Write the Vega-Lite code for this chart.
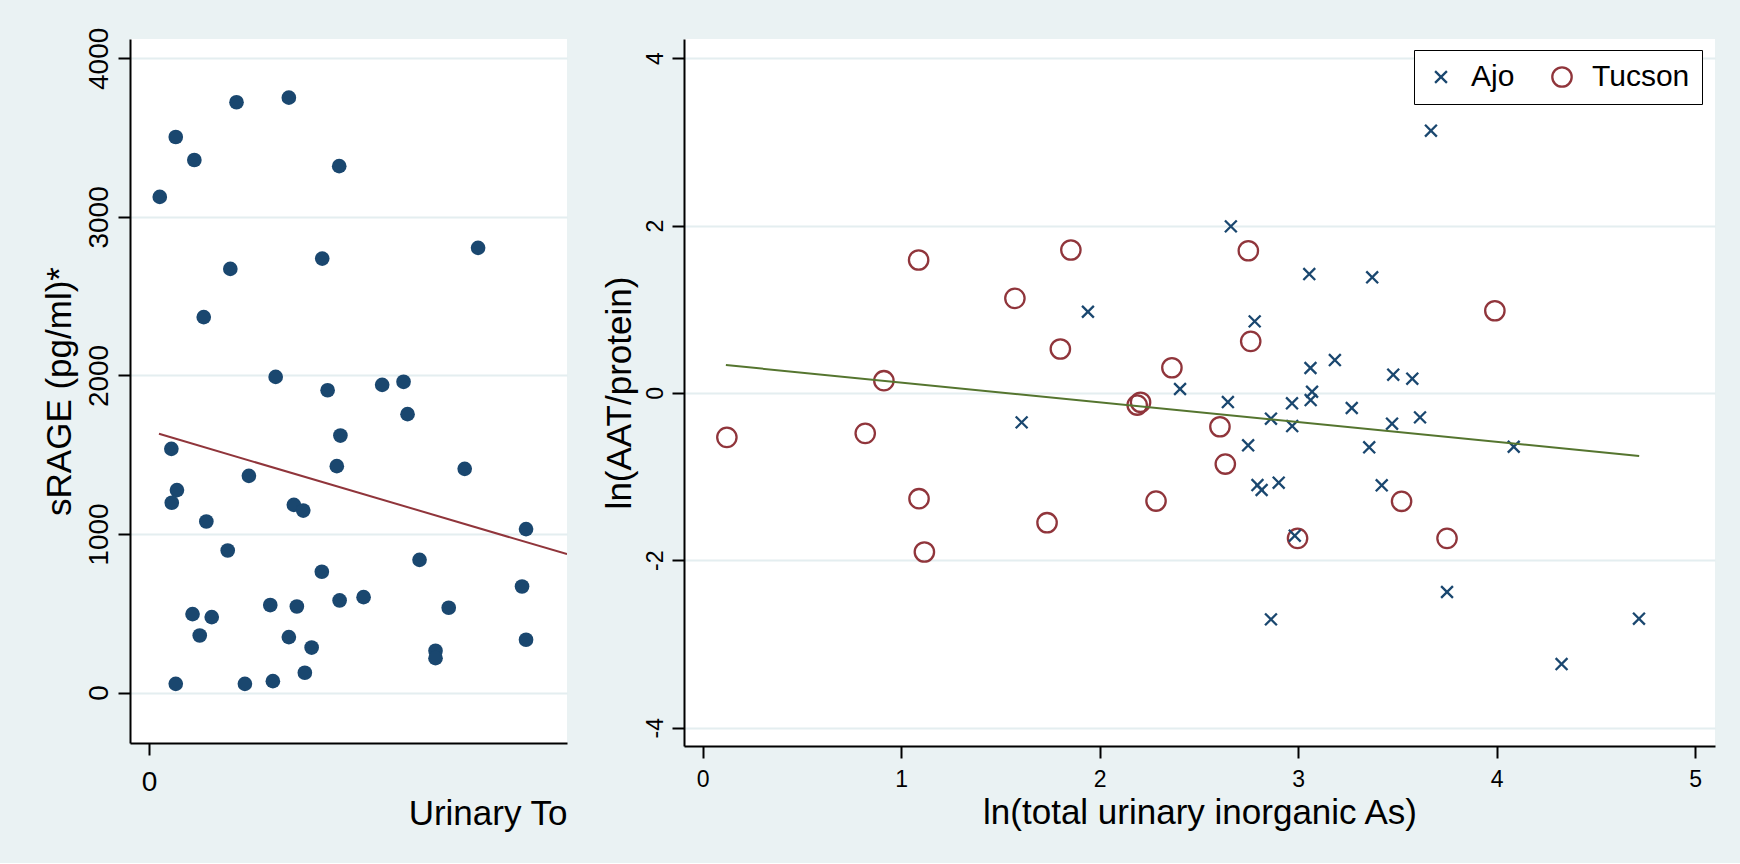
{
  "$schema": "https://vega.github.io/schema/vega-lite/v6.json",
  "background": "#eaf2f3",
  "padding": {"left": 42, "top": 27, "right": 25, "bottom": 31},
  "bounds": "flush",
  "spacing": 117,
  "config": {
    "font": "Liberation Sans",
    "view": {"stroke": null, "fill": "white"},
    "axis": {
      "domainColor": "black", "domainWidth": 2,
      "tickColor": "black", "tickWidth": 2, "tickSize": 12,
      "gridColor": "#e4eef0", "gridWidth": 2,
      "labelColor": "black", "titleColor": "black",
      "titleFontWeight": "normal",
      "labelFont": "Liberation Sans", "titleFont": "Liberation Sans"
    }
  },
  "hconcat": [
    {
      "width": 437,
      "height": 704,
      "encoding": {
        "x": {
          "field": "x", "type": "quantitative",
          "scale": {"domain": [-4.75, 104.6], "nice": false, "zero": false},
          "axis": {
            "values": [0], "format": "d", "grid": false,
            "labelFontSize": 28, "labelPadding": 13.5,
            "title": "Urinary To", "titleFontSize": 35, "titleAnchor": "end",
            "minExtent": 44, "maxExtent": 44, "titlePadding": 9.2
          }
        },
        "y": {
          "field": "y", "type": "quantitative",
          "scale": {"domain": [-318, 4122], "nice": false, "zero": false},
          "axis": {
            "values": [0, 1000, 2000, 3000, 4000], "format": "d", "grid": true,
            "labelAngle": -90, "labelAlign": "center", "labelBaseline": "alphabetic",
            "labelFontSize": 28, "labelPadding": 10.8,
            "title": "sRAGE (pg/ml)*", "titleFontSize": 35,
            "minExtent": 45, "maxExtent": 45, "titlePadding": 8
          }
        }
      },
      "layer": [
        {
          "data": {"values": [
            {"x": 21.9, "y": 3723}, {"x": 35.0, "y": 3752}, {"x": 6.7, "y": 3504}, {"x": 11.35, "y": 3359},
            {"x": 47.6, "y": 3320}, {"x": 2.7, "y": 3126}, {"x": 82.35, "y": 2805}, {"x": 43.35, "y": 2737},
            {"x": 20.35, "y": 2672}, {"x": 13.7, "y": 2368}, {"x": 31.7, "y": 1991}, {"x": 44.7, "y": 1907},
            {"x": 58.35, "y": 1941}, {"x": 63.7, "y": 1960}, {"x": 64.7, "y": 1756}, {"x": 47.9, "y": 1621},
            {"x": 47.0, "y": 1428}, {"x": 79.0, "y": 1411}, {"x": 5.6, "y": 1537}, {"x": 7.0, "y": 1277},
            {"x": 5.7, "y": 1197}, {"x": 25.0, "y": 1367}, {"x": 36.25, "y": 1184}, {"x": 38.6, "y": 1148},
            {"x": 14.35, "y": 1079}, {"x": 94.35, "y": 1031}, {"x": 19.7, "y": 896}, {"x": 67.7, "y": 837},
            {"x": 43.25, "y": 762}, {"x": 93.35, "y": 669}, {"x": 30.35, "y": 552}, {"x": 37.0, "y": 543},
            {"x": 47.7, "y": 581}, {"x": 53.7, "y": 602}, {"x": 75.0, "y": 535}, {"x": 10.9, "y": 495},
            {"x": 15.7, "y": 476}, {"x": 12.7, "y": 360}, {"x": 35.0, "y": 350}, {"x": 40.7, "y": 284},
            {"x": 71.7, "y": 264}, {"x": 71.7, "y": 217}, {"x": 94.35, "y": 333}, {"x": 39.0, "y": 125},
            {"x": 6.7, "y": 55}, {"x": 24.0, "y": 55}, {"x": 31.0, "y": 72}
          ]},
          "mark": {"type": "point", "shape": "circle", "filled": true, "size": 215, "color": "#1a476f", "opacity": 1}
        },
        {
          "data": {"values": [{"x": 2.5, "y": 1632}, {"x": 104.6, "y": 873}]},
          "mark": {"type": "line", "color": "#90353b", "strokeWidth": 2, "clip": true}
        }
      ]
    },
    {
      "width": 1031,
      "height": 707,
      "encoding": {
        "x": {
          "field": "x", "type": "quantitative",
          "scale": {"domain": [-0.094, 5.1], "nice": false, "zero": false},
          "axis": {
            "values": [0, 1, 2, 3, 4, 5], "format": "d", "grid": false,
            "labelFontSize": 23, "labelPadding": 10.8,
            "title": "ln(total urinary inorganic As)", "titleFontSize": 35,
            "minExtent": 38, "maxExtent": 38, "titlePadding": 11.8
          }
        },
        "y": {
          "field": "y", "type": "quantitative",
          "scale": {"domain": [-4.219, 4.229], "nice": false, "zero": false},
          "axis": {
            "values": [-4, -2, 0, 2, 4], "grid": true,
            "labelExpr": "replace(datum.label, '−', '-')",
            "labelAngle": -90, "labelAlign": "center", "labelBaseline": "alphabetic",
            "labelFontSize": 23, "labelPadding": 9.7,
            "title": "ln(AAT/protein)", "titleFontSize": 35,
            "minExtent": 38.5, "maxExtent": 38.5, "titlePadding": 8
          }
        }
      },
      "layer": [
        {
          "data": {"values": [
            {"site": "Tucson", "x": 1.088, "y": 1.588}, {"site": "Tucson", "x": 1.855, "y": 1.708},
            {"site": "Tucson", "x": 1.573, "y": 1.130}, {"site": "Tucson", "x": 1.802, "y": 0.525},
            {"site": "Tucson", "x": 0.913, "y": 0.146}, {"site": "Tucson", "x": 2.364, "y": 0.301},
            {"site": "Tucson", "x": 2.189, "y": -0.145}, {"site": "Tucson", "x": 2.206, "y": -0.112},
            {"site": "Tucson", "x": 0.122, "y": -0.531}, {"site": "Tucson", "x": 0.819, "y": -0.483},
            {"site": "Tucson", "x": 1.090, "y": -1.264}, {"site": "Tucson", "x": 1.117, "y": -1.901},
            {"site": "Tucson", "x": 1.735, "y": -1.551}, {"site": "Tucson", "x": 2.284, "y": -1.292},
            {"site": "Tucson", "x": 2.749, "y": 1.699}, {"site": "Tucson", "x": 3.991, "y": 0.982},
            {"site": "Tucson", "x": 2.761, "y": 0.616}, {"site": "Tucson", "x": 2.606, "y": -0.404},
            {"site": "Tucson", "x": 2.633, "y": -0.850}, {"site": "Tucson", "x": 3.521, "y": -1.295},
            {"site": "Tucson", "x": 2.997, "y": -1.738}, {"site": "Tucson", "x": 3.750, "y": -1.738},
            {"site": "Ajo", "x": 1.941, "y": 0.970}, {"site": "Ajo", "x": 2.405, "y": 0.047},
            {"site": "Ajo", "x": 1.607, "y": -0.352}, {"site": "Ajo", "x": 3.669, "y": 3.133},
            {"site": "Ajo", "x": 2.661, "y": 1.990}, {"site": "Ajo", "x": 3.056, "y": 1.420},
            {"site": "Ajo", "x": 3.373, "y": 1.381}, {"site": "Ajo", "x": 2.781, "y": 0.855},
            {"site": "Ajo", "x": 3.185, "y": 0.393}, {"site": "Ajo", "x": 3.062, "y": 0.298},
            {"site": "Ajo", "x": 3.479, "y": 0.218}, {"site": "Ajo", "x": 3.575, "y": 0.170},
            {"site": "Ajo", "x": 3.070, "y": 0.014}, {"site": "Ajo", "x": 2.646, "y": -0.109},
            {"site": "Ajo", "x": 2.969, "y": -0.124}, {"site": "Ajo", "x": 3.063, "y": -0.085},
            {"site": "Ajo", "x": 3.270, "y": -0.180}, {"site": "Ajo", "x": 3.614, "y": -0.292},
            {"site": "Ajo", "x": 2.863, "y": -0.308}, {"site": "Ajo", "x": 3.473, "y": -0.368},
            {"site": "Ajo", "x": 2.970, "y": -0.396}, {"site": "Ajo", "x": 2.748, "y": -0.626},
            {"site": "Ajo", "x": 3.358, "y": -0.650}, {"site": "Ajo", "x": 4.086, "y": -0.643},
            {"site": "Ajo", "x": 2.795, "y": -1.101}, {"site": "Ajo", "x": 2.816, "y": -1.160},
            {"site": "Ajo", "x": 2.902, "y": -1.073}, {"site": "Ajo", "x": 3.421, "y": -1.104},
            {"site": "Ajo", "x": 2.983, "y": -1.706}, {"site": "Ajo", "x": 3.750, "y": -2.379},
            {"site": "Ajo", "x": 2.863, "y": -2.706}, {"site": "Ajo", "x": 4.717, "y": -2.698},
            {"site": "Ajo", "x": 4.327, "y": -3.240}
          ]},
          "mark": {"type": "point", "filled": false, "strokeWidth": 2.3, "opacity": 1},
          "encoding": {
            "color": {
              "field": "site", "type": "nominal",
              "scale": {"domain": ["Ajo", "Tucson"], "range": ["#1a476f", "#90353b"]},
              "legend": {
                "title": null, "orient": "none", "legendX": 1284, "legendY": 11,
                "direction": "horizontal", "strokeColor": "black", "fillColor": "white",
                "padding": 12, "labelFontSize": 30, "labelFont": "Liberation Sans", "labelColor": "black",
                "labelOffset": 15, "columnPadding": 32, "symbolStrokeWidth": 2.3,
                "encode": {
                  "legend": {"update": {"strokeWidth": {"value": 2}}},
                  "labels": {"update": {"dy": {"value": 6}}}
                }
              }
            },
            "shape": {
              "field": "site", "type": "nominal",
              "scale": {"domain": ["Ajo", "Tucson"], "range": ["M-1,-1L1,1M1,-1L-1,1", "circle"]}
            },
            "size": {
              "field": "site", "type": "nominal",
              "scale": {"domain": ["Ajo", "Tucson"], "range": [140, 376]}
            }
          }
        },
        {
          "data": {"values": [{"x": 0.117, "y": 0.333}, {"x": 4.718, "y": -0.754}]},
          "mark": {"type": "line", "color": "#55752f", "strokeWidth": 2}
        }
      ]
    }
  ]
}
